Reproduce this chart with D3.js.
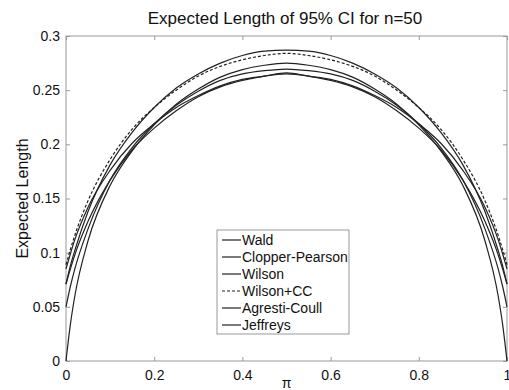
<!DOCTYPE html>
<html>
<head>
<meta charset="utf-8">
<script src="https://cdn.jsdelivr.net/npm/d3@7"></script>
<style>
  body { margin: 0; background: #fff; }
  text { font-family: "Liberation Sans", Arial, sans-serif; fill: #111; }
</style>
</head>
<body>
<script>
// values (expected CI length, n = 50)
var piValues = [0, 0.01, 0.02, 0.05, 0.1, 0.15, 0.2, 0.25, 0.3, 0.35, 0.4, 0.45, 0.5,
                0.55, 0.6, 0.65, 0.7, 0.75, 0.8, 0.85, 0.9, 0.95, 0.98, 0.99, 1];

var wald       = [0, 0.034, 0.060, 0.111, 0.162, 0.194, 0.218, 0.237, 0.251, 0.262, 0.269, 0.273, 0.275,
                  0.273, 0.269, 0.262, 0.251, 0.237, 0.218, 0.194, 0.162, 0.111, 0.060, 0.034, 0];
var clopper    = [0.071, 0.088, 0.102, 0.138, 0.181, 0.211, 0.234, 0.252, 0.265, 0.275, 0.282, 0.286, 0.287,
                  0.286, 0.282, 0.275, 0.265, 0.252, 0.234, 0.211, 0.181, 0.138, 0.102, 0.088, 0.071];
var wilson     = [0.071, 0.085, 0.098, 0.129, 0.167, 0.195, 0.215, 0.231, 0.244, 0.253, 0.259, 0.263, 0.265,
                  0.263, 0.259, 0.253, 0.244, 0.231, 0.215, 0.195, 0.167, 0.129, 0.098, 0.085, 0.071];
var wilsonCC   = [0.089, 0.103, 0.116, 0.148, 0.186, 0.214, 0.234, 0.250, 0.263, 0.272, 0.278, 0.282, 0.284,
                  0.282, 0.278, 0.272, 0.263, 0.250, 0.234, 0.214, 0.186, 0.148, 0.116, 0.103, 0.089];
var agresti    = [0.085, 0.099, 0.112, 0.142, 0.176, 0.201, 0.219, 0.234, 0.245, 0.254, 0.260, 0.263, 0.266,
                  0.263, 0.260, 0.254, 0.245, 0.234, 0.219, 0.201, 0.176, 0.142, 0.112, 0.099, 0.085];
var jeffreys   = [0.050, 0.069, 0.085, 0.122, 0.167, 0.197, 0.219, 0.236, 0.249, 0.259, 0.265, 0.268, 0.2695,
                  0.268, 0.265, 0.259, 0.249, 0.236, 0.219, 0.197, 0.167, 0.122, 0.085, 0.069, 0.050];

var seriesNames = ["Wald", "Clopper-Pearson", "Wilson", "Wilson+CC", "Agresti-Coull", "Jeffreys"];
var seriesValues = [wald, clopper, wilson, wilsonCC, agresti, jeffreys];
var seriesDash = ["", "", "", "3,2", "", ""];

var xTicks = [0, 0.2, 0.4, 0.6, 0.8, 1];
var yTicks = [0, 0.05, 0.1, 0.15, 0.2, 0.25, 0.3];

var w = 509;
var h = 390;
var mLeft = 66, mRight = 507, mTop = 36, mBottom = 361;

var svg = d3.select("body")
            .append("svg")
            .attr("width", w)
            .attr("height", h);

var x_scale = d3.scaleLinear().domain([0, 1]).range([mLeft, mRight]);
var y_scale = d3.scaleLinear().domain([0, 0.3]).range([mBottom, mTop]);

// box
svg.append("rect")
   .attr("x", mLeft).attr("y", mTop)
   .attr("width", mRight - mLeft).attr("height", mBottom - mTop)
   .attr("fill", "none").attr("stroke", "#999").attr("stroke-width", 1);

// axes (MATLAB style: ticks inside, mirrored)
var x_axis = d3.axisBottom(x_scale).tickValues(xTicks).tickSizeInner(-4).tickSizeOuter(0)
               .tickPadding(9).tickFormat(d3.format("~g"));
var y_axis = d3.axisLeft(y_scale).tickValues(yTicks).tickSizeInner(-4).tickSizeOuter(0)
               .tickPadding(6).tickFormat(d3.format("~g"));

var gx = svg.append("g").attr("transform", "translate(0," + mBottom + ")").call(x_axis);
var gy = svg.append("g").attr("transform", "translate(" + mLeft + ",0)").call(y_axis);
var gx2 = svg.append("g").attr("transform", "translate(0," + mTop + ")")
             .call(d3.axisTop(x_scale).tickValues(xTicks).tickSizeInner(-4).tickSizeOuter(0).tickFormat(""));
var gy2 = svg.append("g").attr("transform", "translate(" + mRight + ",0)")
             .call(d3.axisRight(y_scale).tickValues(yTicks).tickSizeInner(-4).tickSizeOuter(0).tickFormat(""));

[gx, gy, gx2, gy2].forEach(function(g) {
    g.select(".domain").remove();
    g.selectAll(".tick line").attr("stroke", "#999");
    g.selectAll("text").style("font-size", "14px").attr("fill", "#111")
     .style("font-family", "'Liberation Sans', Arial, sans-serif");
});

// curves
var line = d3.line()
             .x(function(d) { return x_scale(d[0]); })
             .y(function(d) { return y_scale(d[1]); })
             .curve(d3.curveMonotoneX);

seriesValues.forEach(function(vals, i) {
    var pts = piValues.map(function(p, j) { return [p, vals[j]]; });
    svg.append("path")
       .attr("d", line(pts))
       .attr("fill", "none")
       .attr("stroke", "#222")
       .attr("stroke-width", 1.2)
       .attr("stroke-dasharray", seriesDash[i]);
});

// legend
var lg = svg.append("g");
lg.append("rect")
  .attr("x", 217).attr("y", 230).attr("width", 132).attr("height", 104)
  .attr("fill", "#fff").attr("stroke", "#999");
seriesNames.forEach(function(name, i) {
    var yy = 240 + i * 17;
    lg.append("line")
      .attr("x1", 222).attr("x2", 241).attr("y1", yy).attr("y2", yy)
      .attr("stroke", "#222").attr("stroke-width", 1.2)
      .attr("stroke-dasharray", seriesDash[i]);
    lg.append("text")
      .attr("x", 242).attr("y", yy + 5)
      .style("font-size", "14px")
      .text(name);
});

// title and labels
svg.append("text")
   .attr("x", 285).attr("y", 24)
   .attr("text-anchor", "middle")
   .style("font-size", "17px")
   .text("Expected Length of 95% CI for n=50");

svg.append("text")
   .attr("transform", "translate(28," + ((mTop + mBottom) / 2) + ") rotate(-90)")
   .attr("text-anchor", "middle")
   .style("font-size", "16px")
   .text("Expected Length");

svg.append("text")
   .attr("x", (mLeft + mRight) / 2).attr("y", 388)
   .attr("text-anchor", "middle")
   .style("font-size", "14px")
   .text("π");
</script>
</body>
</html>
